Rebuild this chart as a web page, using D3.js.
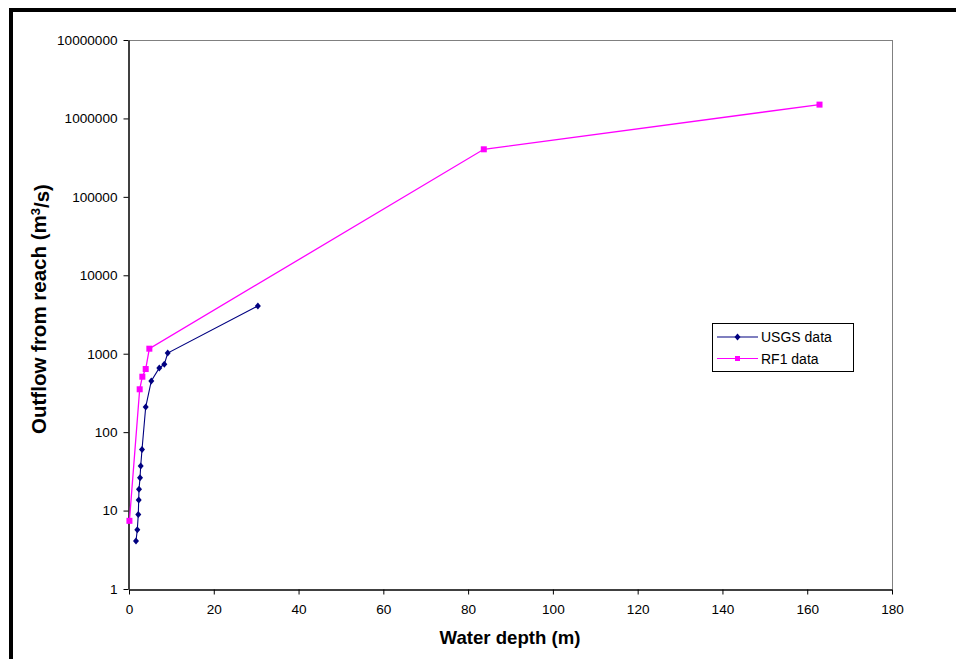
<!DOCTYPE html>
<html lang="en">
<head>
    <meta charset="UTF-8">
    <title>Outflow from reach vs water depth</title>
    <script src="https://d3js.org/d3.v7.min.js"></script>
    <style>
        body { margin: 0; background: #fff; }
        svg { display: block; font-family: "Liberation Sans", Arial, sans-serif; }
        .axis text { font-size: 13.6px; fill: #000; }
        .axis path, .axis line { stroke: #000; }
    </style>
</head>
<body>
    <div id="chart"></div>
    <script>
        // USGS series
        const usgsDepth = [1.65, 1.96, 2.19, 2.29, 2.36, 2.6, 2.76, 3.07, 3.94, 5.26, 7.15, 8.33, 9.13, 30.4];
        const usgsFlow = [4.1, 5.7, 8.9, 13.6, 18.7, 26.2, 37, 60, 209, 449, 658, 733, 1021, 4057];

        // RF1 series
        const rf1Depth = [0.1, 2.52, 3.15, 3.94, 4.8, 83.7, 162.9];
        const rf1Flow = [7.4, 352, 509, 638, 1159, 404000, 1500000];

        // ticks
        const xTicks = [0, 20, 40, 60, 80, 100, 120, 140, 160, 180];
        const yTicks = [1, 10, 100, 1000, 10000, 100000, 1000000, 10000000];

        const W = 956, H = 659;
        const plotL = 129, plotR = 892, plotT = 40, plotB = 589;

        const svg = d3.select("#chart").append("svg")
            .attr("width", W)
            .attr("height", H);

        const x = d3.scaleLinear().domain([0, 180]).range([plotL, plotR]);
        const y = d3.scaleLog().domain([1, 1e7]).range([plotB, plotT]);

        // outer frame (only top and left edges visible)
        svg.append("rect").attr("x", 9).attr("y", 8).attr("width", W - 9).attr("height", 4).attr("fill", "#000");
        svg.append("rect").attr("x", 9).attr("y", 8).attr("width", 4).attr("height", H - 8).attr("fill", "#000");

        // plot area border, top and right in grey
        svg.append("line")
            .attr("x1", plotL).attr("y1", plotT + 0.5)
            .attr("x2", plotR + 0.5).attr("y2", plotT + 0.5)
            .attr("stroke", "#808080");
        svg.append("line")
            .attr("x1", plotR + 0.5).attr("y1", plotT)
            .attr("x2", plotR + 0.5).attr("y2", plotB)
            .attr("stroke", "#808080");

        // axes
        svg.append("g")
            .attr("class", "axis")
            .attr("transform", `translate(0,${plotB + 0.5})`)
            .call(d3.axisBottom(x).tickValues(xTicks).tickSize(5).tickSizeOuter(0).tickPadding(10))
            .call(g => g.select(".domain").attr("stroke-width", 1.5));

        svg.append("g")
            .attr("class", "axis")
            .attr("transform", `translate(${plotL - 0.5},0)`)
            .call(d3.axisLeft(y).tickValues(yTicks).tickFormat(d3.format("d")).tickSize(5).tickSizeOuter(0).tickPadding(6))
            .call(g => g.select(".domain").attr("stroke-width", 1.5));

        // axis titles
        svg.append("text")
            .attr("x", 510)
            .attr("y", 644)
            .attr("text-anchor", "middle")
            .attr("font-size", "18.6px")
            .attr("font-weight", "bold")
            .text("Water depth (m)");

        const yTitle = svg.append("text")
            .attr("transform", "translate(46,309) rotate(-90)")
            .attr("text-anchor", "middle")
            .attr("font-size", "20.5px")
            .attr("font-weight", "bold");
        yTitle.append("tspan").text("Outflow from reach (m");
        yTitle.append("tspan").attr("dy", "-0.45em").attr("font-size", "13px").text("3");
        yTitle.append("tspan").attr("dy", "0.45em").text("/s)");

        const line = d3.line()
            .x(d => x(d[0]))
            .y(d => y(d[1]));

        const usgs = usgsDepth.map((d, i) => [d, usgsFlow[i]]);
        const rf1 = rf1Depth.map((d, i) => [d, rf1Flow[i]]);

        const diamond = "M0,-3.5L3,0L0,3.5L-3,0Z";

        // RF1 line + squares
        svg.append("path")
            .datum(rf1)
            .attr("d", line)
            .attr("fill", "none")
            .attr("stroke", "#ff00ff")
            .attr("stroke-width", 1.3);

        svg.selectAll(".sq")
            .data(rf1)
            .join("rect")
            .attr("class", "sq")
            .attr("x", d => x(d[0]) - 3)
            .attr("y", d => y(d[1]) - 3)
            .attr("width", 6)
            .attr("height", 6)
            .attr("fill", "#ff00ff");

        // USGS line + diamonds
        svg.append("path")
            .datum(usgs)
            .attr("d", line)
            .attr("fill", "none")
            .attr("stroke", "#000080")
            .attr("stroke-width", 1.1);

        svg.selectAll(".dm")
            .data(usgs)
            .join("path")
            .attr("class", "dm")
            .attr("transform", d => `translate(${x(d[0])},${y(d[1])})`)
            .attr("d", diamond)
            .attr("fill", "#000080");

        // legend
        const legend = svg.append("g");
        legend.append("rect")
            .attr("x", 712.5).attr("y", 323.5)
            .attr("width", 141).attr("height", 48)
            .attr("fill", "#fff")
            .attr("stroke", "#000");

        const legendItems = [
            {name: "USGS data", color: "#000080", marker: "diamond"},
            {name: "RF1 data", color: "#ff00ff", marker: "square"}
        ];

        legendItems.forEach((item, i) => {
            const ly = 337 + i * 21.5;
            legend.append("line")
                .attr("x1", 717).attr("x2", 758)
                .attr("y1", ly).attr("y2", ly)
                .attr("stroke", item.color)
                .attr("stroke-width", 1.2);
            if (item.marker === "diamond") {
                legend.append("path")
                    .attr("transform", `translate(737.5,${ly})`)
                    .attr("d", diamond)
                    .attr("fill", item.color);
            } else {
                legend.append("rect")
                    .attr("x", 735).attr("y", ly - 2.5)
                    .attr("width", 5).attr("height", 5)
                    .attr("fill", item.color);
            }
            legend.append("text")
                .attr("x", 761)
                .attr("y", ly + 5)
                .attr("font-size", "14px")
                .text(item.name);
        });
    </script>
</body>
</html>
